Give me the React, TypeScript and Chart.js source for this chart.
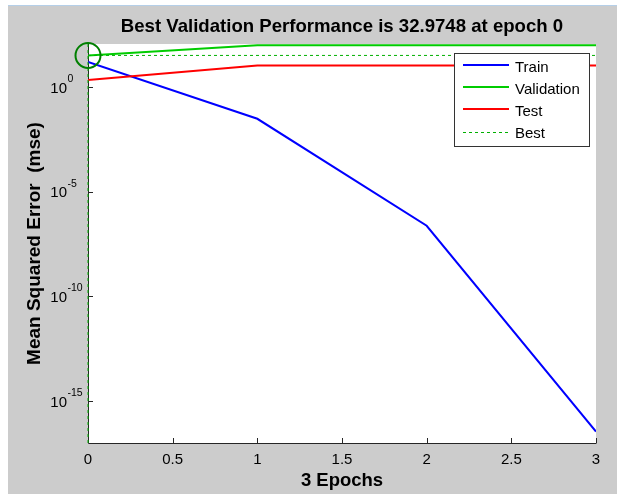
import React, { useEffect, useRef } from "react";
import { Chart, registerables } from "chart.js";

Chart.register(...registerables);

const epochs = [0, 1, 2, 3];
const trainPerf = [16, 0.031, 2.4e-7, 3.5e-17];
const valPerf = [32.9748, 100, 100, 100];
const testPerf = [2.2, 11, 11, 11];
const bestEpoch = 0;
const bestPerf = 32.9748;
const xTicks = [0, 0.5, 1, 1.5, 2, 2.5, 3];
const xTickLabels = ["0", "0.5", "1", "1.5", "2", "2.5", "3"];
const yTickExps = [0, -5, -10, -15];
const xMin = 0;
const xMax = 3;
const yMin = 1e-17;
const yMax = 116;
const titleText = "Best Validation Performance is 32.9748 at epoch 0";
const xTitle = "3 Epochs";
const yTitle = "Mean Squared Error  (mse)";
const legendLabels = ["Train", "Validation", "Test", "Best"];

const FONT = '"Liberation Sans", Arial, sans-serif';
const C_TRAIN = "#0000ff";
const C_VAL = "#00cc00";
const C_TEST = "#ff0000";
const C_BEST = "#00b000";
const C_CIRCLE = "#007f00";

const matlabPlugin = {
  id: "matlabLook",
  beforeDatasetsDraw(chart: any) {
    const { ctx, chartArea: a, scales } = chart;
    const xs = scales.x;
    const ys = scales.y;
    ctx.save();
    ctx.fillStyle = "#ffffff";
    ctx.fillRect(a.left, a.top, a.right - a.left, a.bottom - a.top);
    ctx.strokeStyle = "#262626";
    ctx.lineWidth = 1;
    ctx.beginPath();
    ctx.moveTo(a.left + 0.5, a.top);
    ctx.lineTo(a.left + 0.5, a.bottom + 0.5);
    ctx.lineTo(a.right + 0.5, a.bottom + 0.5);
    ctx.stroke();
    // inner ticks
    ctx.beginPath();
    xTicks.forEach((v) => {
      const px = Math.round(xs.getPixelForValue(v)) + 0.5;
      ctx.moveTo(px, a.bottom);
      ctx.lineTo(px, a.bottom - 5);
    });
    yTickExps.forEach((e) => {
      const py = Math.round(ys.getPixelForValue(Math.pow(10, e))) + 0.5;
      ctx.moveTo(a.left, py);
      ctx.lineTo(a.left + 5, py);
    });
    ctx.stroke();
    ctx.restore();
  },
  afterDraw(chart: any) {
    const { ctx, chartArea: a, scales } = chart;
    const xs = scales.x;
    const ys = scales.y;
    ctx.save();
    ctx.fillStyle = "#000000";
    // title
    ctx.font = `bold 18.6px ${FONT}`;
    ctx.textAlign = "center";
    ctx.textBaseline = "alphabetic";
    ctx.fillText(titleText, (a.left + a.right) / 2, a.top - 12.5);
    // x title
    ctx.font = `bold 18.5px ${FONT}`;
    ctx.fillText(xTitle, (a.left + a.right) / 2, a.bottom + 43);
    // y title
    ctx.save();
    ctx.font = `bold 19px ${FONT}`;
    ctx.translate(a.left - 48.5, (a.top + a.bottom) / 2);
    ctx.rotate(-Math.PI / 2);
    ctx.fillText(yTitle, 0, 0);
    ctx.restore();
    // x tick labels
    ctx.font = `15px ${FONT}`;
    ctx.textAlign = "center";
    xTicks.forEach((v, i) => {
      ctx.fillText(xTickLabels[i], xs.getPixelForValue(v), a.bottom + 21);
    });
    // y tick labels with superscripts
    yTickExps.forEach((e) => {
      const py = ys.getPixelForValue(Math.pow(10, e));
      ctx.font = `15px ${FONT}`;
      ctx.textAlign = "right";
      ctx.fillText("10", a.left - 21, py + 5.5);
      ctx.font = `10.5px ${FONT}`;
      ctx.textAlign = "left";
      ctx.fillText(String(e), a.left - 20.5, py - 5);
    });
    // legend
    const lx = a.right - 142;
    const ly = a.top + 9;
    const lw = 135;
    const lh = 93;
    ctx.fillStyle = "#ffffff";
    ctx.fillRect(lx, ly, lw, lh);
    ctx.strokeStyle = "#333333";
    ctx.lineWidth = 1;
    ctx.strokeRect(lx + 0.5, ly + 0.5, lw, lh);
    const colors = [C_TRAIN, C_VAL, C_TEST, C_BEST];
    legendLabels.forEach((lab, i) => {
      const y = ly + 12 + i * 22.2;
      ctx.save();
      ctx.strokeStyle = colors[i];
      ctx.lineWidth = i === 3 ? 1 : 2;
      if (i === 3) ctx.setLineDash([3, 3]);
      ctx.beginPath();
      const yy = i === 3 ? Math.round(y) + 0.5 : Math.round(y);
      ctx.moveTo(lx + 9, yy);
      ctx.lineTo(lx + 55, yy);
      ctx.stroke();
      ctx.restore();
      ctx.fillStyle = "#000000";
      ctx.font = `15px ${FONT}`;
      ctx.textAlign = "left";
      ctx.fillText(lab, lx + 61, y + 6.5);
    });
    ctx.restore();
  },
};

export default function App() {
  const ref = useRef<HTMLCanvasElement>(null);
  useEffect(() => {
    if (!ref.current) return;
    const pts = (arr: number[]) => epochs.map((e, i) => ({ x: e, y: arr[i] }));
    const chart = new Chart(ref.current, {
      type: "line",
      data: {
        datasets: [
          {
            label: "BestPoint",
            data: [{ x: bestEpoch, y: bestPerf }],
            showLine: false,
            pointRadius: 12.5,
            pointBorderWidth: 2,
            pointBorderColor: C_CIRCLE,
            pointBackgroundColor: "rgba(0,0,0,0)",
            clip: false as any,
            order: 0,
          },
          {
            label: "BestV",
            data: [
              { x: bestEpoch, y: yMin },
              { x: bestEpoch, y: yMax },
            ],
            borderColor: C_BEST,
            borderWidth: 1,
            borderDash: [3, 3],
            pointRadius: 0,
            clip: false as any,
            order: 1,
          },
          {
            label: "Best",
            data: [
              { x: xMin, y: bestPerf },
              { x: xMax, y: bestPerf },
            ],
            borderColor: C_BEST,
            borderWidth: 1,
            borderDash: [3, 3],
            pointRadius: 0,
            order: 2,
          },
          {
            label: "Test",
            data: pts(testPerf),
            borderColor: C_TEST,
            borderWidth: 2,
            pointRadius: 0,
            order: 3,
          },
          {
            label: "Validation",
            data: pts(valPerf),
            borderColor: C_VAL,
            borderWidth: 2,
            pointRadius: 0,
            order: 4,
          },
          {
            label: "Train",
            data: pts(trainPerf),
            borderColor: C_TRAIN,
            borderWidth: 2,
            pointRadius: 0,
            order: 5,
          },
        ],
      },
      options: {
        animation: false,
        responsive: false,
        devicePixelRatio: 1,
        layout: { padding: { left: 88, top: 44, right: 21, bottom: 51 } },
        plugins: {
          legend: { display: false },
          tooltip: { enabled: false },
          title: { display: false },
        },
        events: [],
        scales: {
          x: {
            type: "linear",
            min: xMin,
            max: xMax,
            ticks: { display: false },
            grid: { display: false },
            border: { display: false },
            afterFit: (s: any) => {
              s.height = 0;
            },
          },
          y: {
            type: "logarithmic",
            min: yMin,
            max: yMax,
            ticks: { display: false },
            grid: { display: false },
            border: { display: false },
            afterFit: (s: any) => {
              s.width = 0;
            },
          },
        },
      },
      plugins: [matlabPlugin],
    });
    return () => chart.destroy();
  }, []);

  return (
    <div style={{ position: "absolute", left: 0, top: 0, width: 617, height: 494, background: "#ffffff", overflow: "hidden" }}>
      <div
        style={{
          position: "absolute",
          left: 8,
          top: 5,
          width: 609,
          height: 489,
          background: "#cccccc",
          borderTop: "1px solid #b5cfe8",
          boxSizing: "border-box",
        }}
      />
      <canvas
        ref={ref}
        width={617}
        height={494}
        style={{ position: "absolute", left: 0, top: 0, width: 617, height: 494 }}
      />
    </div>
  );
}
